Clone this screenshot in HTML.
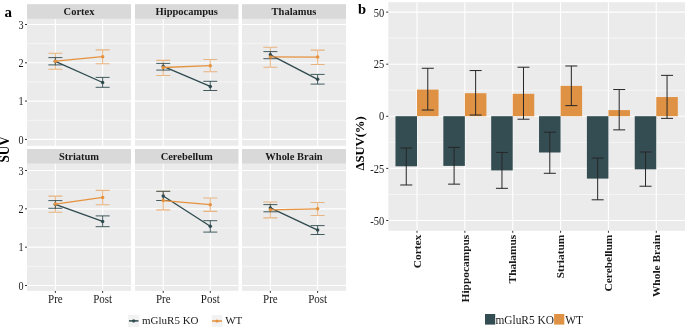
<!DOCTYPE html>
<html><head><meta charset="utf-8"><style>
html,body{margin:0;padding:0;background:#fff;width:685px;height:327px;overflow:hidden}
svg{display:block;will-change:transform}
text{font-family:"Liberation Serif",serif}
.ax{font-size:11px;fill:#1a1a1a}
.strip{font-size:10.5px;font-weight:bold;fill:#1a1a1a}
.bx{font-size:11.4px;font-weight:bold;fill:#1a1a1a}
.lab{font-weight:bold;fill:#000}
.ttl{font-size:13.2px;font-weight:bold;fill:#000}
.ttl2{font-size:12.6px;font-weight:bold;fill:#000}
.legb{font-size:11.4px;fill:#1a1a1a}
.leg{font-size:11px;fill:#1a1a1a}
.axb{font-size:10.5px;fill:#1a1a1a}
.axd{font-size:10.2px;fill:#1a1a1a}
</style></head><body>
<svg width="685" height="327" viewBox="0 0 685 327">
<rect width="685" height="327" fill="#fff"/>
<rect x="27.0" y="4.2" width="104.0" height="14.70" fill="#D9D9D9"/>
<rect x="27.0" y="18.9" width="104.0" height="126.90" fill="#EBEBEB"/>
<line x1="27.0" x2="131.0" y1="120.25" y2="120.25" stroke="#fff" stroke-width="0.55"/>
<line x1="27.0" x2="131.0" y1="81.95" y2="81.95" stroke="#fff" stroke-width="0.55"/>
<line x1="27.0" x2="131.0" y1="43.65" y2="43.65" stroke="#fff" stroke-width="0.55"/>
<line x1="27.0" x2="131.0" y1="139.40" y2="139.40" stroke="#fff" stroke-width="1.1"/>
<line x1="27.0" x2="131.0" y1="101.10" y2="101.10" stroke="#fff" stroke-width="1.1"/>
<line x1="27.0" x2="131.0" y1="62.80" y2="62.80" stroke="#fff" stroke-width="1.1"/>
<line x1="27.0" x2="131.0" y1="24.50" y2="24.50" stroke="#fff" stroke-width="1.1"/>
<line x1="55.36" x2="55.36" y1="18.9" y2="145.8" stroke="#fff" stroke-width="1.1"/>
<line x1="102.64" x2="102.64" y1="18.9" y2="145.8" stroke="#fff" stroke-width="1.1"/>
<text transform="translate(79.00,15.40) scale(1,1.06)" text-anchor="middle" class="strip">Cortex</text>
<path d="M48.36 53.3H62.36M55.36 53.3V69.3M48.36 69.3H62.36" stroke="#E5923F" stroke-width="1.1" fill="none" opacity="0.62"/>
<path d="M95.64 49.9H109.64M102.64 49.9V63.75M95.64 63.75H109.64" stroke="#E5923F" stroke-width="1.1" fill="none" opacity="0.62"/>
<path d="M48.36 57.6H62.36M55.36 57.6V64.9M48.36 64.9H62.36" stroke="#2F4B4F" stroke-width="0.95" fill="none" opacity="0.95"/>
<path d="M95.64 77.4H109.64M102.64 77.4V87.3M95.64 87.3H109.64" stroke="#2F4B4F" stroke-width="0.95" fill="none" opacity="0.95"/>
<line x1="55.36" y1="61.3" x2="102.64" y2="82.5" stroke="#2F4B4F" stroke-width="1.35"/>
<circle cx="55.36" cy="61.3" r="1.75" fill="#2F4B4F"/>
<circle cx="102.64" cy="82.5" r="1.75" fill="#2F4B4F"/>
<line x1="55.36" y1="61.2" x2="102.64" y2="56.7" stroke="#E5923F" stroke-width="1.35"/>
<circle cx="55.36" cy="61.2" r="1.75" fill="#E5923F"/>
<circle cx="102.64" cy="56.7" r="1.75" fill="#E5923F"/>
<line x1="25" x2="27.0" y1="139.40" y2="139.40" stroke="#333333" stroke-width="1"/>
<text transform="translate(23.60,144.00) scale(1,1.15)" text-anchor="end" class="axd">0</text>
<line x1="25" x2="27.0" y1="101.10" y2="101.10" stroke="#333333" stroke-width="1"/>
<text transform="translate(23.60,105.00) scale(1,1.15)" text-anchor="end" class="axd">1</text>
<line x1="25" x2="27.0" y1="62.80" y2="62.80" stroke="#333333" stroke-width="1"/>
<text transform="translate(23.60,66.65) scale(1,1.15)" text-anchor="end" class="axd">2</text>
<line x1="25" x2="27.0" y1="24.50" y2="24.50" stroke="#333333" stroke-width="1"/>
<text transform="translate(23.60,28.60) scale(1,1.15)" text-anchor="end" class="axd">3</text>
<rect x="135.0" y="4.2" width="103.5" height="14.70" fill="#D9D9D9"/>
<rect x="135.0" y="18.9" width="103.5" height="126.90" fill="#EBEBEB"/>
<line x1="135.0" x2="238.5" y1="120.25" y2="120.25" stroke="#fff" stroke-width="0.55"/>
<line x1="135.0" x2="238.5" y1="81.95" y2="81.95" stroke="#fff" stroke-width="0.55"/>
<line x1="135.0" x2="238.5" y1="43.65" y2="43.65" stroke="#fff" stroke-width="0.55"/>
<line x1="135.0" x2="238.5" y1="139.40" y2="139.40" stroke="#fff" stroke-width="1.1"/>
<line x1="135.0" x2="238.5" y1="101.10" y2="101.10" stroke="#fff" stroke-width="1.1"/>
<line x1="135.0" x2="238.5" y1="62.80" y2="62.80" stroke="#fff" stroke-width="1.1"/>
<line x1="135.0" x2="238.5" y1="24.50" y2="24.50" stroke="#fff" stroke-width="1.1"/>
<line x1="163.23" x2="163.23" y1="18.9" y2="145.8" stroke="#fff" stroke-width="1.1"/>
<line x1="210.27" x2="210.27" y1="18.9" y2="145.8" stroke="#fff" stroke-width="1.1"/>
<text transform="translate(186.75,15.40) scale(1,1.06)" text-anchor="middle" class="strip">Hippocampus</text>
<path d="M156.23 60.4H170.23M163.23 60.4V75.5M156.23 75.5H170.23" stroke="#E5923F" stroke-width="1.1" fill="none" opacity="0.62"/>
<path d="M203.27 59.5H217.27M210.27 59.5V71.8M203.27 71.8H217.27" stroke="#E5923F" stroke-width="1.1" fill="none" opacity="0.62"/>
<path d="M156.23 63.4H170.23M163.23 63.4V70.1M156.23 70.1H170.23" stroke="#2F4B4F" stroke-width="0.95" fill="none" opacity="0.95"/>
<path d="M203.27 81.3H217.27M210.27 81.3V90.5M203.27 90.5H217.27" stroke="#2F4B4F" stroke-width="0.95" fill="none" opacity="0.95"/>
<line x1="163.23" y1="66.4" x2="210.27" y2="86.4" stroke="#2F4B4F" stroke-width="1.35"/>
<circle cx="163.23" cy="66.4" r="1.75" fill="#2F4B4F"/>
<circle cx="210.27" cy="86.4" r="1.75" fill="#2F4B4F"/>
<line x1="163.23" y1="67.5" x2="210.27" y2="65.7" stroke="#E5923F" stroke-width="1.35"/>
<circle cx="163.23" cy="67.5" r="1.75" fill="#E5923F"/>
<circle cx="210.27" cy="65.7" r="1.75" fill="#E5923F"/>
<rect x="242.0" y="4.2" width="104.0" height="14.70" fill="#D9D9D9"/>
<rect x="242.0" y="18.9" width="104.0" height="126.90" fill="#EBEBEB"/>
<line x1="242.0" x2="346.0" y1="120.25" y2="120.25" stroke="#fff" stroke-width="0.55"/>
<line x1="242.0" x2="346.0" y1="81.95" y2="81.95" stroke="#fff" stroke-width="0.55"/>
<line x1="242.0" x2="346.0" y1="43.65" y2="43.65" stroke="#fff" stroke-width="0.55"/>
<line x1="242.0" x2="346.0" y1="139.40" y2="139.40" stroke="#fff" stroke-width="1.1"/>
<line x1="242.0" x2="346.0" y1="101.10" y2="101.10" stroke="#fff" stroke-width="1.1"/>
<line x1="242.0" x2="346.0" y1="62.80" y2="62.80" stroke="#fff" stroke-width="1.1"/>
<line x1="242.0" x2="346.0" y1="24.50" y2="24.50" stroke="#fff" stroke-width="1.1"/>
<line x1="270.36" x2="270.36" y1="18.9" y2="145.8" stroke="#fff" stroke-width="1.1"/>
<line x1="317.64" x2="317.64" y1="18.9" y2="145.8" stroke="#fff" stroke-width="1.1"/>
<text transform="translate(294.00,15.40) scale(1,1.06)" text-anchor="middle" class="strip">Thalamus</text>
<path d="M263.36 47.2H277.36M270.36 47.2V67.3M263.36 67.3H277.36" stroke="#E5923F" stroke-width="1.1" fill="none" opacity="0.62"/>
<path d="M310.64 50.1H324.64M317.64 50.1V64.5M310.64 64.5H324.64" stroke="#E5923F" stroke-width="1.1" fill="none" opacity="0.62"/>
<path d="M263.36 51.6H277.36M270.36 51.6V58.7M263.36 58.7H277.36" stroke="#2F4B4F" stroke-width="0.95" fill="none" opacity="0.95"/>
<path d="M310.64 74.4H324.64M317.64 74.4V84.1M310.64 84.1H324.64" stroke="#2F4B4F" stroke-width="0.95" fill="none" opacity="0.95"/>
<line x1="270.36" y1="54.8" x2="317.64" y2="79.3" stroke="#2F4B4F" stroke-width="1.35"/>
<circle cx="270.36" cy="54.8" r="1.75" fill="#2F4B4F"/>
<circle cx="317.64" cy="79.3" r="1.75" fill="#2F4B4F"/>
<line x1="270.36" y1="56.9" x2="317.64" y2="57.1" stroke="#E5923F" stroke-width="1.35"/>
<circle cx="270.36" cy="56.9" r="1.75" fill="#E5923F"/>
<circle cx="317.64" cy="57.1" r="1.75" fill="#E5923F"/>
<rect x="27.0" y="149.0" width="104.0" height="14.80" fill="#D9D9D9"/>
<rect x="27.0" y="163.8" width="104.0" height="127.10" fill="#EBEBEB"/>
<line x1="27.0" x2="131.0" y1="266.33" y2="266.33" stroke="#fff" stroke-width="0.55"/>
<line x1="27.0" x2="131.0" y1="228.00" y2="228.00" stroke="#fff" stroke-width="0.55"/>
<line x1="27.0" x2="131.0" y1="189.68" y2="189.68" stroke="#fff" stroke-width="0.55"/>
<line x1="27.0" x2="131.0" y1="285.50" y2="285.50" stroke="#fff" stroke-width="1.1"/>
<line x1="27.0" x2="131.0" y1="247.17" y2="247.17" stroke="#fff" stroke-width="1.1"/>
<line x1="27.0" x2="131.0" y1="208.84" y2="208.84" stroke="#fff" stroke-width="1.1"/>
<line x1="27.0" x2="131.0" y1="170.51" y2="170.51" stroke="#fff" stroke-width="1.1"/>
<line x1="55.36" x2="55.36" y1="163.8" y2="290.9" stroke="#fff" stroke-width="1.1"/>
<line x1="102.64" x2="102.64" y1="163.8" y2="290.9" stroke="#fff" stroke-width="1.1"/>
<text transform="translate(79.00,160.30) scale(1,1.06)" text-anchor="middle" class="strip">Striatum</text>
<path d="M48.36 196.1H62.36M55.36 196.1V212.2M48.36 212.2H62.36" stroke="#E5923F" stroke-width="1.1" fill="none" opacity="0.62"/>
<path d="M95.64 190.4H109.64M102.64 190.4V204.8M95.64 204.8H109.64" stroke="#E5923F" stroke-width="1.1" fill="none" opacity="0.62"/>
<path d="M48.36 200.6H62.36M55.36 200.6V208.3M48.36 208.3H62.36" stroke="#2F4B4F" stroke-width="0.95" fill="none" opacity="0.95"/>
<path d="M95.64 215.9H109.64M102.64 215.9V226.7M95.64 226.7H109.64" stroke="#2F4B4F" stroke-width="0.95" fill="none" opacity="0.95"/>
<line x1="55.36" y1="204.3" x2="102.64" y2="221.4" stroke="#2F4B4F" stroke-width="1.35"/>
<circle cx="55.36" cy="204.3" r="1.75" fill="#2F4B4F"/>
<circle cx="102.64" cy="221.4" r="1.75" fill="#2F4B4F"/>
<line x1="55.36" y1="204.1" x2="102.64" y2="197.4" stroke="#E5923F" stroke-width="1.35"/>
<circle cx="55.36" cy="204.1" r="1.75" fill="#E5923F"/>
<circle cx="102.64" cy="197.4" r="1.75" fill="#E5923F"/>
<line x1="25" x2="27.0" y1="285.50" y2="285.50" stroke="#333333" stroke-width="1"/>
<text transform="translate(23.60,290.10) scale(1,1.15)" text-anchor="end" class="axd">0</text>
<line x1="25" x2="27.0" y1="247.17" y2="247.17" stroke="#333333" stroke-width="1"/>
<text transform="translate(23.60,251.07) scale(1,1.15)" text-anchor="end" class="axd">1</text>
<line x1="25" x2="27.0" y1="208.84" y2="208.84" stroke="#333333" stroke-width="1"/>
<text transform="translate(23.60,212.69) scale(1,1.15)" text-anchor="end" class="axd">2</text>
<line x1="25" x2="27.0" y1="170.51" y2="170.51" stroke="#333333" stroke-width="1"/>
<text transform="translate(23.60,174.61) scale(1,1.15)" text-anchor="end" class="axd">3</text>
<line x1="55.36" x2="55.36" y1="290.9" y2="292.9" stroke="#333333" stroke-width="1"/>
<text transform="translate(55.36,303.00) scale(1,1.06)" text-anchor="middle" class="ax">Pre</text>
<line x1="102.64" x2="102.64" y1="290.9" y2="292.9" stroke="#333333" stroke-width="1"/>
<text transform="translate(102.64,303.00) scale(1,1.06)" text-anchor="middle" class="ax">Post</text>
<rect x="135.0" y="149.0" width="103.5" height="14.80" fill="#D9D9D9"/>
<rect x="135.0" y="163.8" width="103.5" height="127.10" fill="#EBEBEB"/>
<line x1="135.0" x2="238.5" y1="266.33" y2="266.33" stroke="#fff" stroke-width="0.55"/>
<line x1="135.0" x2="238.5" y1="228.00" y2="228.00" stroke="#fff" stroke-width="0.55"/>
<line x1="135.0" x2="238.5" y1="189.68" y2="189.68" stroke="#fff" stroke-width="0.55"/>
<line x1="135.0" x2="238.5" y1="285.50" y2="285.50" stroke="#fff" stroke-width="1.1"/>
<line x1="135.0" x2="238.5" y1="247.17" y2="247.17" stroke="#fff" stroke-width="1.1"/>
<line x1="135.0" x2="238.5" y1="208.84" y2="208.84" stroke="#fff" stroke-width="1.1"/>
<line x1="135.0" x2="238.5" y1="170.51" y2="170.51" stroke="#fff" stroke-width="1.1"/>
<line x1="163.23" x2="163.23" y1="163.8" y2="290.9" stroke="#fff" stroke-width="1.1"/>
<line x1="210.27" x2="210.27" y1="163.8" y2="290.9" stroke="#fff" stroke-width="1.1"/>
<text transform="translate(186.75,160.30) scale(1,1.06)" text-anchor="middle" class="strip">Cerebellum</text>
<path d="M156.23 191.3H170.23M163.23 191.3V209.9M156.23 209.9H170.23" stroke="#E5923F" stroke-width="1.1" fill="none" opacity="0.62"/>
<path d="M203.27 198.0H217.27M210.27 198.0V211.4M203.27 211.4H217.27" stroke="#E5923F" stroke-width="1.1" fill="none" opacity="0.62"/>
<path d="M156.23 191.3H170.23M163.23 191.3V200.5M156.23 200.5H170.23" stroke="#2F4B4F" stroke-width="0.95" fill="none" opacity="0.95"/>
<path d="M203.27 220.7H217.27M210.27 220.7V232.1M203.27 232.1H217.27" stroke="#2F4B4F" stroke-width="0.95" fill="none" opacity="0.95"/>
<line x1="163.23" y1="196.0" x2="210.27" y2="226.2" stroke="#2F4B4F" stroke-width="1.35"/>
<circle cx="163.23" cy="196.0" r="1.75" fill="#2F4B4F"/>
<circle cx="210.27" cy="226.2" r="1.75" fill="#2F4B4F"/>
<line x1="163.23" y1="200.6" x2="210.27" y2="204.7" stroke="#E5923F" stroke-width="1.35"/>
<circle cx="163.23" cy="200.6" r="1.75" fill="#E5923F"/>
<circle cx="210.27" cy="204.7" r="1.75" fill="#E5923F"/>
<line x1="163.23" x2="163.23" y1="290.9" y2="292.9" stroke="#333333" stroke-width="1"/>
<text transform="translate(163.23,303.00) scale(1,1.06)" text-anchor="middle" class="ax">Pre</text>
<line x1="210.27" x2="210.27" y1="290.9" y2="292.9" stroke="#333333" stroke-width="1"/>
<text transform="translate(210.27,303.00) scale(1,1.06)" text-anchor="middle" class="ax">Post</text>
<rect x="242.0" y="149.0" width="104.0" height="14.80" fill="#D9D9D9"/>
<rect x="242.0" y="163.8" width="104.0" height="127.10" fill="#EBEBEB"/>
<line x1="242.0" x2="346.0" y1="266.33" y2="266.33" stroke="#fff" stroke-width="0.55"/>
<line x1="242.0" x2="346.0" y1="228.00" y2="228.00" stroke="#fff" stroke-width="0.55"/>
<line x1="242.0" x2="346.0" y1="189.68" y2="189.68" stroke="#fff" stroke-width="0.55"/>
<line x1="242.0" x2="346.0" y1="285.50" y2="285.50" stroke="#fff" stroke-width="1.1"/>
<line x1="242.0" x2="346.0" y1="247.17" y2="247.17" stroke="#fff" stroke-width="1.1"/>
<line x1="242.0" x2="346.0" y1="208.84" y2="208.84" stroke="#fff" stroke-width="1.1"/>
<line x1="242.0" x2="346.0" y1="170.51" y2="170.51" stroke="#fff" stroke-width="1.1"/>
<line x1="270.36" x2="270.36" y1="163.8" y2="290.9" stroke="#fff" stroke-width="1.1"/>
<line x1="317.64" x2="317.64" y1="163.8" y2="290.9" stroke="#fff" stroke-width="1.1"/>
<text transform="translate(294.00,160.30) scale(1,1.06)" text-anchor="middle" class="strip">Whole Brain</text>
<path d="M263.36 202.0H277.36M270.36 202.0V217.9M263.36 217.9H277.36" stroke="#E5923F" stroke-width="1.1" fill="none" opacity="0.62"/>
<path d="M310.64 202.5H324.64M317.64 202.5V215.5M310.64 215.5H324.64" stroke="#E5923F" stroke-width="1.1" fill="none" opacity="0.62"/>
<path d="M263.36 204.6H277.36M270.36 204.6V211.8M263.36 211.8H277.36" stroke="#2F4B4F" stroke-width="0.95" fill="none" opacity="0.95"/>
<path d="M310.64 225.6H324.64M317.64 225.6V234.5M310.64 234.5H324.64" stroke="#2F4B4F" stroke-width="0.95" fill="none" opacity="0.95"/>
<line x1="270.36" y1="207.9" x2="317.64" y2="230.1" stroke="#2F4B4F" stroke-width="1.35"/>
<circle cx="270.36" cy="207.9" r="1.75" fill="#2F4B4F"/>
<circle cx="317.64" cy="230.1" r="1.75" fill="#2F4B4F"/>
<line x1="270.36" y1="209.8" x2="317.64" y2="208.8" stroke="#E5923F" stroke-width="1.35"/>
<circle cx="270.36" cy="209.8" r="1.75" fill="#E5923F"/>
<circle cx="317.64" cy="208.8" r="1.75" fill="#E5923F"/>
<line x1="270.36" x2="270.36" y1="290.9" y2="292.9" stroke="#333333" stroke-width="1"/>
<text transform="translate(270.36,303.00) scale(1,1.06)" text-anchor="middle" class="ax">Pre</text>
<line x1="317.64" x2="317.64" y1="290.9" y2="292.9" stroke="#333333" stroke-width="1"/>
<text transform="translate(317.64,303.00) scale(1,1.06)" text-anchor="middle" class="ax">Post</text>
<text x="4.5" y="17.3" class="lab" style="font-size:15px">a</text>
<text transform="translate(9.0,149.3) rotate(-90) scale(1,1.1)" text-anchor="middle" class="ttl">SUV</text>
<rect x="128" y="315" width="11" height="12" fill="#F2F2F2"/>
<line x1="129" x2="138.5" y1="320.9" y2="320.9" stroke="#2F4B4F" stroke-width="1.5"/>
<circle cx="133.7" cy="320.9" r="1.6" fill="#2F4B4F"/>
<text transform="translate(142.00,323.80) scale(1,1.0)" class="leg">mGluR5 KO</text>
<rect x="211.8" y="315" width="10.5" height="12" fill="#F2F2F2"/>
<line x1="212" x2="222" y1="321" y2="321" stroke="#E5923F" stroke-width="1.5"/>
<circle cx="217" cy="321" r="1.6" fill="#E5923F"/>
<text transform="translate(225.20,324.40) scale(1,1.0)" class="leg">WT</text>
<rect x="388.3" y="2.2" width="296.70" height="228.60" fill="#EBEBEB"/>
<line x1="388.3" x2="685.0" y1="194.45" y2="194.45" stroke="#fff" stroke-width="0.55"/>
<line x1="388.3" x2="685.0" y1="142.35" y2="142.35" stroke="#fff" stroke-width="0.55"/>
<line x1="388.3" x2="685.0" y1="90.25" y2="90.25" stroke="#fff" stroke-width="0.55"/>
<line x1="388.3" x2="685.0" y1="38.15" y2="38.15" stroke="#fff" stroke-width="0.55"/>
<line x1="388.3" x2="685.0" y1="220.50" y2="220.50" stroke="#fff" stroke-width="1.1"/>
<line x1="386.2" x2="388.3" y1="220.50" y2="220.50" stroke="#333333" stroke-width="1"/>
<text transform="translate(384.20,225.15) scale(1,1.15)" text-anchor="end" class="axb">-50</text>
<line x1="388.3" x2="685.0" y1="168.40" y2="168.40" stroke="#fff" stroke-width="1.1"/>
<line x1="386.2" x2="388.3" y1="168.40" y2="168.40" stroke="#333333" stroke-width="1"/>
<text transform="translate(384.20,173.25) scale(1,1.15)" text-anchor="end" class="axb">-25</text>
<line x1="388.3" x2="685.0" y1="116.30" y2="116.30" stroke="#fff" stroke-width="1.1"/>
<line x1="386.2" x2="388.3" y1="116.30" y2="116.30" stroke="#333333" stroke-width="1"/>
<text transform="translate(384.20,119.55) scale(1,1.15)" text-anchor="end" class="axb">0</text>
<line x1="388.3" x2="685.0" y1="64.20" y2="64.20" stroke="#fff" stroke-width="1.1"/>
<line x1="386.2" x2="388.3" y1="64.20" y2="64.20" stroke="#333333" stroke-width="1"/>
<text transform="translate(384.20,68.25) scale(1,1.15)" text-anchor="end" class="axb">25</text>
<line x1="388.3" x2="685.0" y1="12.10" y2="12.10" stroke="#fff" stroke-width="1.1"/>
<line x1="386.2" x2="388.3" y1="12.10" y2="12.10" stroke="#333333" stroke-width="1"/>
<text transform="translate(384.20,16.75) scale(1,1.15)" text-anchor="end" class="axb">50</text>
<line x1="417.01" x2="417.01" y1="2.2" y2="230.8" stroke="#fff" stroke-width="1.1"/>
<line x1="464.87" x2="464.87" y1="2.2" y2="230.8" stroke="#fff" stroke-width="1.1"/>
<line x1="512.72" x2="512.72" y1="2.2" y2="230.8" stroke="#fff" stroke-width="1.1"/>
<line x1="560.58" x2="560.58" y1="2.2" y2="230.8" stroke="#fff" stroke-width="1.1"/>
<line x1="608.43" x2="608.43" y1="2.2" y2="230.8" stroke="#fff" stroke-width="1.1"/>
<line x1="656.29" x2="656.29" y1="2.2" y2="230.8" stroke="#fff" stroke-width="1.1"/>
<rect x="395.48" y="116.20" width="21.53" height="50.10" fill="#344D52"/>
<rect x="417.01" y="89.60" width="21.53" height="26.60" fill="#E09244"/>
<rect x="443.33" y="116.20" width="21.53" height="49.70" fill="#344D52"/>
<rect x="464.87" y="93.20" width="21.53" height="23.00" fill="#E09244"/>
<rect x="491.19" y="116.20" width="21.53" height="54.20" fill="#344D52"/>
<rect x="512.72" y="93.80" width="21.53" height="22.40" fill="#E09244"/>
<rect x="539.04" y="116.20" width="21.53" height="36.30" fill="#344D52"/>
<rect x="560.58" y="85.90" width="21.53" height="30.30" fill="#E09244"/>
<rect x="586.90" y="116.20" width="21.53" height="62.40" fill="#344D52"/>
<rect x="608.43" y="110.10" width="21.53" height="6.10" fill="#E09244"/>
<rect x="634.75" y="116.20" width="21.53" height="53.10" fill="#344D52"/>
<rect x="656.29" y="97.05" width="21.53" height="19.15" fill="#E09244"/>
<path d="M400.25 148.03H412.25M406.25 148.03V184.99M400.25 184.99H412.25" stroke="#262626" stroke-width="1" fill="none"/>
<path d="M421.78 68.27H433.78M427.78 68.27V110.03M421.78 110.03H433.78" stroke="#262626" stroke-width="1" fill="none"/>
<line x1="417.01" x2="417.01" y1="230.8" y2="232.8" stroke="#333333" stroke-width="1"/>
<text transform="translate(420.71,234.7) rotate(-90)" text-anchor="end" class="bx">Cortex</text>
<path d="M448.10 147.40H460.10M454.10 147.40V184.15M448.10 184.15H460.10" stroke="#262626" stroke-width="1" fill="none"/>
<path d="M469.64 70.56H481.64M475.64 70.56V115.04M469.64 115.04H481.64" stroke="#262626" stroke-width="1" fill="none"/>
<line x1="464.87" x2="464.87" y1="230.8" y2="232.8" stroke="#333333" stroke-width="1"/>
<text transform="translate(468.57,234.7) rotate(-90)" text-anchor="end" class="bx">Hippocampus</text>
<path d="M495.96 152.41H507.96M501.96 152.41V188.33M495.96 188.33H507.96" stroke="#262626" stroke-width="1" fill="none"/>
<path d="M517.49 67.22H529.49M523.49 67.22V119.21M517.49 119.21H529.49" stroke="#262626" stroke-width="1" fill="none"/>
<line x1="512.72" x2="512.72" y1="230.8" y2="232.8" stroke="#333333" stroke-width="1"/>
<text transform="translate(516.42,234.7) rotate(-90)" text-anchor="end" class="bx">Thalamus</text>
<path d="M543.81 132.16H555.81M549.81 132.16V173.29M543.81 173.29H555.81" stroke="#262626" stroke-width="1" fill="none"/>
<path d="M565.34 65.97H577.34M571.34 65.97V105.64M565.34 105.64H577.34" stroke="#262626" stroke-width="1" fill="none"/>
<line x1="560.58" x2="560.58" y1="230.8" y2="232.8" stroke="#333333" stroke-width="1"/>
<text transform="translate(564.28,234.7) rotate(-90)" text-anchor="end" class="bx">Striatum</text>
<path d="M591.66 158.05H603.66M597.66 158.05V199.81M591.66 199.81H603.66" stroke="#262626" stroke-width="1" fill="none"/>
<path d="M613.20 89.56H625.20M619.20 89.56V129.86M613.20 129.86H625.20" stroke="#262626" stroke-width="1" fill="none"/>
<line x1="608.43" x2="608.43" y1="230.8" y2="232.8" stroke="#333333" stroke-width="1"/>
<text transform="translate(612.13,234.7) rotate(-90)" text-anchor="end" class="bx">Cerebellum</text>
<path d="M639.52 152.00H651.52M645.52 152.00V186.24M639.52 186.24H651.52" stroke="#262626" stroke-width="1" fill="none"/>
<path d="M661.05 75.37H673.05M667.05 75.37V118.38M661.05 118.38H673.05" stroke="#262626" stroke-width="1" fill="none"/>
<line x1="656.29" x2="656.29" y1="230.8" y2="232.8" stroke="#333333" stroke-width="1"/>
<text transform="translate(659.99,234.7) rotate(-90)" text-anchor="end" class="bx">Whole Brain</text>
<text x="358" y="13.7" class="lab" style="font-size:14.5px">b</text>
<text transform="translate(363.6,143.4) rotate(-90)" text-anchor="middle" class="ttl2">ΔSUV(%)</text>
<rect x="485" y="314" width="10.2" height="10.6" fill="#344D52"/>
<text transform="translate(495.40,324.10) scale(1,1.06)" class="legb">mGluR5 KO</text>
<rect x="554.1" y="314" width="10.2" height="10.6" fill="#E09244"/>
<text transform="translate(565.20,324.10) scale(1,1.06)" class="legb">WT</text>
</svg>
</body></html>
